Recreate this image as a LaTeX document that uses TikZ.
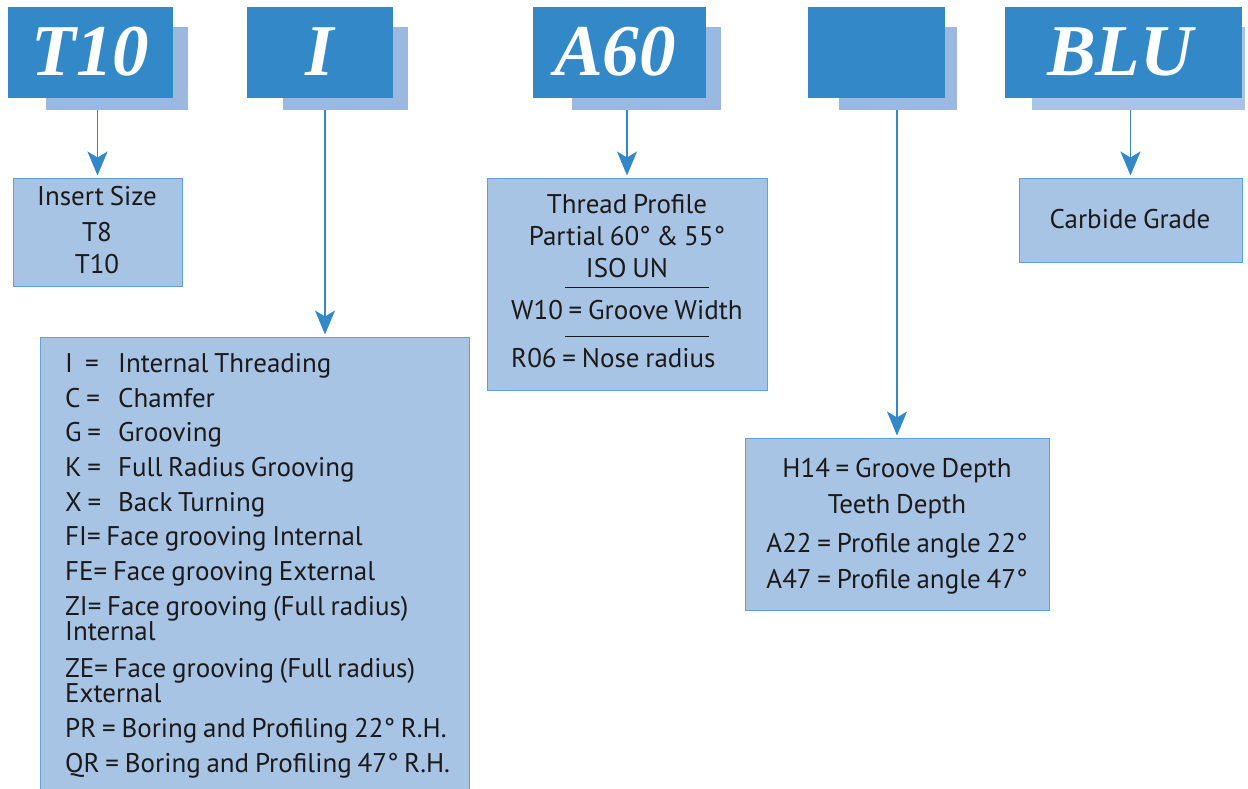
\documentclass[tikz,border=0pt]{standalone}
\usepackage{fontspec}
\setmainfont{PT Sans}[WordSpace=0.8]
\newfontfamily\hdrfont{Liberation Serif}
\usetikzlibrary{arrows.meta}
\definecolor{hdark}{HTML}{3388C8}
\definecolor{hshadow}{HTML}{9BB9E0}
\definecolor{bfill}{HTML}{A7C4E4}
\definecolor{bline}{HTML}{5FA0DA}
\definecolor{txt}{HTML}{1C191A}
\begin{document}
\begin{tikzpicture}[x=1pt,y=-1pt,
  hdrbox/.style={fill=hdark,draw=none,inner sep=0pt,anchor=north west},
  shadowbox/.style={fill=hshadow,draw=none,inner sep=0pt,anchor=north west},
  hdrtext/.style={text=white,inner sep=0pt,anchor=base,font=\hdrfont\bfseries\itshape\fontsize{73}{78}\selectfont},
  infobox/.style={fill=bfill,draw=bline,line width=1.3pt,inner sep=0pt,anchor=north west},
  ln/.style={text=txt,inner sep=0pt,anchor=base,font=\fontsize{27}{30}\selectfont},
  lnl/.style={ln,anchor=base west},
  arr/.style={draw=hdark,line width=1.6pt,shorten >=2.5pt,-{Stealth[length=24pt 0,width=20pt 0,inset=6pt]}},
  rule/.style={draw=txt,line width=0.8pt}
]
\useasboundingbox (0,0) rectangle (1248,788);
% shadows
\node[shadowbox,minimum width=142pt,minimum height=83pt] (h1s) at (46,27) {};
\node[shadowbox,minimum width=125pt,minimum height=83pt] (h2s) at (283,27) {};
\node[shadowbox,minimum width=149pt,minimum height=83pt] (h3s) at (572,27) {};
\node[shadowbox,minimum width=118pt,minimum height=83pt] (h4s) at (839,27) {};
\node[shadowbox,minimum width=213pt,minimum height=83pt,fill=hshadow!85!white] (h5s) at (1032,27) {};
% header boxes
\node[hdrbox,minimum width=165pt,minimum height=91pt] (h1) at (8,7) {};
\node[hdrbox,minimum width=146pt,minimum height=91pt] (h2) at (247,7) {};
\node[hdrbox,minimum width=173pt,minimum height=91pt] (h3) at (533,7) {};
\node[hdrbox,minimum width=137pt,minimum height=91pt] (h4) at (808,7) {};
\node[hdrbox,minimum width=237pt,minimum height=91pt] (h5) at (1005,7) {};
\node[hdrtext] (t1) at (90.5,75) {T10};
\node[hdrtext] (t2) at (320,75) {I};
\node[hdrtext] (t3) at (615,75) {A60};
\node[hdrtext] (t5) at (1120,75) {BLU};
% info boxes
\node[infobox,minimum width=169pt,minimum height=108pt] (b1) at (13,178) {};
\node[infobox,minimum width=429pt,minimum height=460pt] (b2) at (40,337) {};
\node[infobox,minimum width=280pt,minimum height=212pt] (b3) at (487,178) {};
\node[infobox,minimum width=304pt,minimum height=172pt] (b4) at (745,438) {};
\node[infobox,minimum width=223pt,minimum height=84pt] (b5) at (1019,178) {};
% arrows
\coordinate (a1) at (97.5,110);
\coordinate (a2) at (325,110);
\coordinate (a3) at (627,110);
\coordinate (a4) at (897,110);
\coordinate (a5) at (1130.5,110);
\draw[arr] (a1) -- (a1 |- b1.north);
\draw[arr] (a2) -- (a2 |- b2.north);
\draw[arr] (a3) -- (a3 |- b3.north);
\draw[arr] (a4) -- (a4 |- b4.north);
\draw[arr] (a5) -- (a5 |- b5.north);
% box 1 text
\node[ln] (l11) at (97,205) {Insert Size};
\node[ln] (l12) at (97,241) {T8};
\node[ln] (l13) at (97,273) {T10};
% box 2 text
\node[lnl] (l21) at (65,372) {\makebox[53pt][l]{I\hspace{12pt}=}Internal Threading};
\node[lnl] (l22) at (65,407) {\makebox[53pt][l]{C =}Chamfer};
\node[lnl] (l23) at (65,441) {\makebox[53pt][l]{G =}Grooving};
\node[lnl] (l24) at (65,476) {\makebox[53pt][l]{K =}Full Radius Grooving};
\node[lnl] (l25) at (65,511) {\makebox[53pt][l]{X =}Back Turning};
\node[lnl] (l26) at (65,545) {FI= Face grooving Internal};
\node[lnl] (l27) at (65,580) {FE= Face grooving External};
\node[lnl] (l28) at (65,615) {ZI= Face grooving (Full radius)};
\node[lnl] (l29) at (65,640) {Internal};
\node[lnl] (l210) at (65,677) {ZE= Face grooving (Full radius)};
\node[lnl] (l211) at (65,702) {External};
\node[lnl] (l212) at (65,737) {PR = Boring and Profiling 22° R.H.};
\node[lnl] (l213) at (65,772) {QR = Boring and Profiling 47° R.H.};
% box 3 text
\node[ln] (l31) at (627,213) {Thread Profile};
\node[ln] (l32) at (627,245) {Partial 60° \& 55°};
\node[ln] (l33) at (627,277) {ISO UN};
\coordinate (r1a) at (565,287.5);
\coordinate (r1b) at (709,287.5);
\draw[rule] (r1a) -- (r1b);
\node[lnl] (l34) at (511,319) {W10 = Groove Width};
\coordinate (r2a) at (565,336);
\coordinate (r2b) at (709,336);
\draw[rule] (r2a) -- (r2b);
\node[lnl] (l35) at (511,367) {R06 = Nose radius};
% box 4 text
\node[ln] (l41) at (897,477) {H14 = Groove Depth};
\node[ln] (l42) at (897,513) {Teeth Depth};
\node[ln] (l43) at (897,552) {A22 = Profile angle 22°};
\node[ln] (l44) at (897,588) {A47 = Profile angle 47°};
% box 5 text
\node[ln] (l51) at (1130,228) {Carbide Grade};
\end{tikzpicture}
\end{document}
